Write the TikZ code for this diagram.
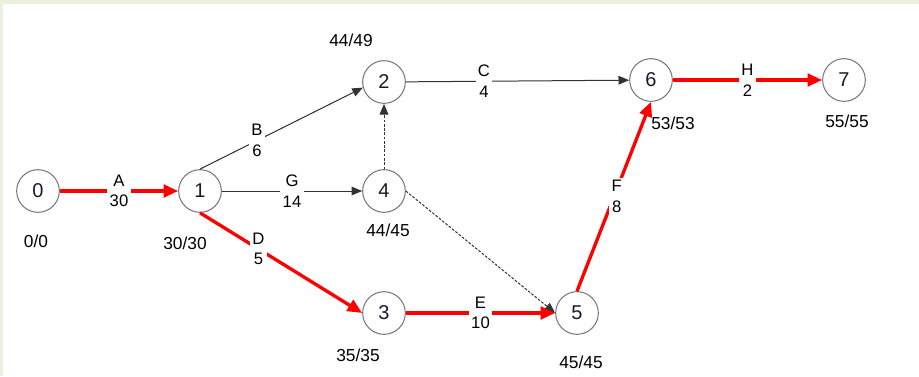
\documentclass[tikz,border=0pt]{standalone}
\usepackage{fontspec}
\setmainfont{Liberation Sans}
\usepackage{tikz}
\usetikzlibrary{
  arrows.meta,
}
\definecolor{critRed}{HTML}{FF0000}
\definecolor{frameGreen}{HTML}{EAF1DE}
\definecolor{eventInk}{HTML}{1A1A2E}
\tikzset{
  eventNode/.style={
    circle, draw=black!55, line width=0.75pt, fill=white,
    minimum size=32pt, inner sep=0pt, text=eventInk,
    font=\fontsize{15}{17}\selectfont,
  },
  actLabel/.style={
    rectangle, fill=white, inner sep=1.8pt, align=center,
    font=\fontsize{12.5}{15.5}\selectfont,
  },
  timeLabel/.style={
    inner sep=0pt, font=\fontsize{13}{15}\selectfont,
  },
  arrowNorm/.style={
    -{Triangle[length=8pt,width=6.5pt]}, line width=0.75pt, draw=black!80,
  },
  arrowDummy/.style={
    arrowNorm, dash pattern=on 2pt off 1.2pt,
  },
  arrowCrit/.style={
    -{Triangle[length=11pt,width=9.5pt]}, line width=2.5pt, draw=critRed,
  },
}

\begin{document}
\begin{tikzpicture}[x=0.75pt, y=-0.75pt]

% frame and page
\useasboundingbox (0,0) rectangle (919,376);
\fill[frameGreen] (0,0) rectangle (919,376);
\fill[white] (3,4) rectangle (919,376);

% events
\node[eventNode] (n0) at (38, 191) {0};
\node[eventNode] (n1) at (200, 191) {1};
\node[eventNode] (n2) at (384, 82) {2};
\node[eventNode] (n4) at (384, 191) {4};
\node[eventNode] (n3) at (384, 313) {3};
\node[eventNode] (n5) at (577, 313) {5};
\node[eventNode] (n6) at (651, 80) {6};
\node[eventNode] (n7) at (844, 80) {7};

% earliest/latest times
\node[timeLabel] (t0) at (36, 241) {0/0};
\node[timeLabel] (t1) at (185, 243) {30/30};
\node[timeLabel] (t2) at (351, 40) {44/49};
\node[timeLabel] (t4) at (388, 230) {44/45};
\node[timeLabel] (t3) at (358, 355) {35/35};
\node[timeLabel] (t5) at (581, 362) {45/45};
\node[timeLabel] (t6) at (673, 123) {53/53};
\node[timeLabel] (t7) at (847, 121) {55/55};

% ordinary activities
\draw[arrowNorm] (n1.north) -- node[actLabel, pos=0.35] {B\\6} (n2.195);
\draw[arrowNorm] (n1) -- node[actLabel] {G\\14} (n4);
\draw[arrowNorm] (n2) -- node[actLabel, pos=0.35] {C\\4} (n6);

% dummy activities
\draw[arrowDummy] (n4) -- (n2);
\draw[arrowDummy] (n4.east) -- (n5.west);

% critical path
\draw[arrowCrit] (n0) -- node[actLabel] {A\\30} (n1);
\draw[arrowCrit] (n1.south) -- node[actLabel, pos=0.36] {D\\5} (n3.west);
\draw[arrowCrit] (n3) -- node[actLabel] {E\\10} (n5);
\draw[arrowCrit] (n5.north) -- node[actLabel, pos=0.5, xshift=2pt] {F\\8} (n6.south);
\draw[arrowCrit] (n6) -- node[actLabel] {H\\2} (n7);

\end{tikzpicture}
\end{document}
